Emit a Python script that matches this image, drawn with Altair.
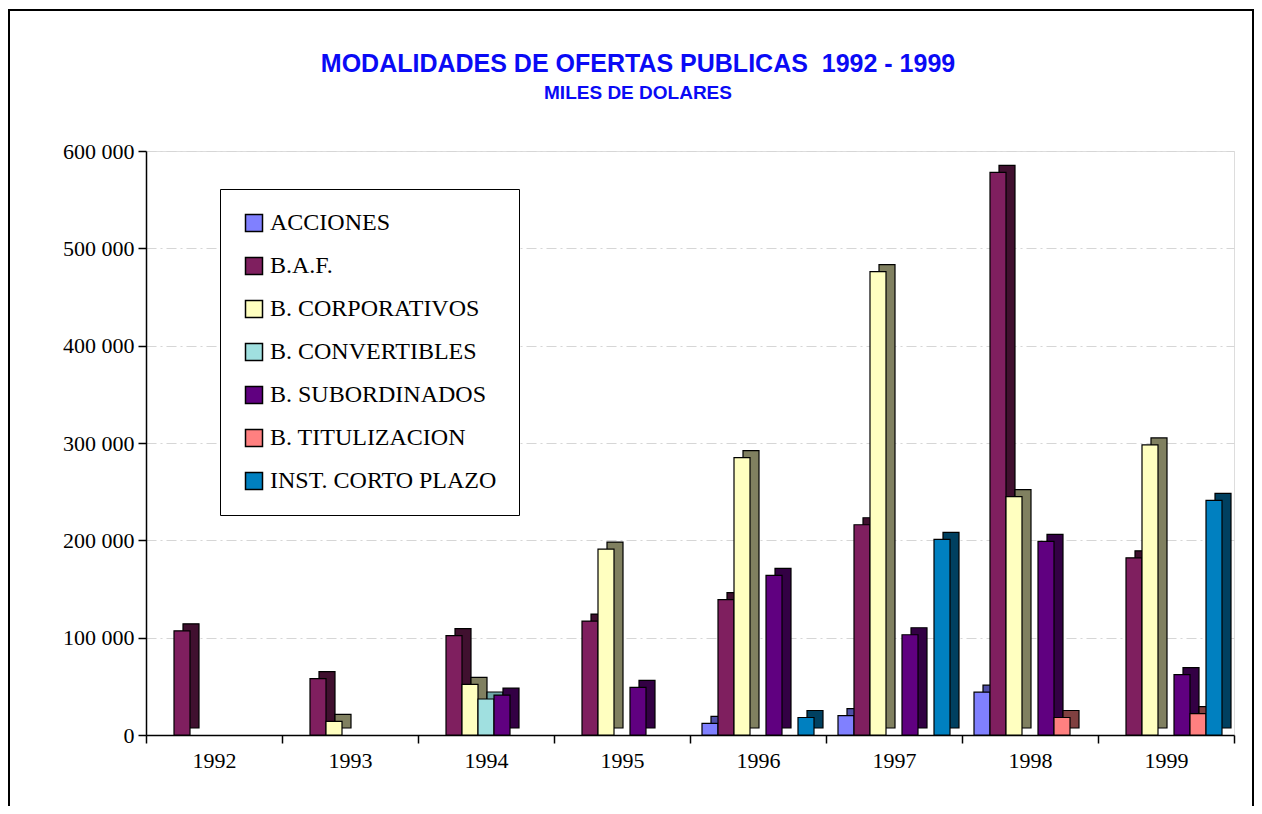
import altair as alt
import pandas as pd

years = ["1992", "1993", "1994", "1995", "1996", "1997", "1998", "1999"]
series = ["ACCIONES", "B.A.F.", "B. CORPORATIVOS", "B. CONVERTIBLES",
          "B. SUBORDINADOS", "B. TITULIZACION", "INST. CORTO PLAZO"]

acciones = [0, 0, 0, 0, 12000, 20000, 44000, 0]
baf = [107000, 58000, 102000, 117000, 139000, 216000, 578000, 182000]
corporativos = [0, 14000, 52000, 191000, 285000, 476000, 245000, 298000]
convertibles = [0, 0, 37000, 0, 0, 0, 0, 0]
subordinados = [0, 0, 41000, 49000, 164000, 103000, 199000, 62000]
titulizacion = [0, 0, 0, 0, 0, 0, 18000, 22000]
corto_plazo = [0, 0, 0, 0, 18000, 201000, 0, 241000]

front_colors = ["#8080FF", "#7F1F5F", "#FFFFC0", "#A0E0E0", "#600080", "#FF8080", "#0080C0"]
side_colors = ["#5050A8", "#40102F", "#808060", "#70A8A8", "#330044", "#804040", "#004060"]

rows = []
for s, vals in zip(series, [acciones, baf, corporativos, convertibles,
                            subordinados, titulizacion, corto_plazo]):
    for yr, v in zip(years, vals):
        rows.append({"year": yr, "series": s, "value": v})
df = pd.DataFrame(rows)

x_enc = alt.X(
    "year:N", sort=years,
    scale=alt.Scale(paddingInner=0, paddingOuter=0),
    axis=alt.Axis(title=None, labelAngle=0, tickBand="extent", tickSize=8,
                  tickColor="black", domainColor="black", domainWidth=1.5,
                  tickWidth=1.5, labelFont="Liberation Serif", labelFontSize=22,
                  labelColor="black", labelPadding=7, grid=False),
)
y_enc = alt.Y(
    "value:Q",
    scale=alt.Scale(domain=[0, 600000], nice=False),
    axis=alt.Axis(title=None, values=[0, 100000, 200000, 300000, 400000, 500000, 600000],
                  labelExpr="replace(format(datum.value, ','), ',', ' ')",
                  tickSize=8, tickColor="black", tickWidth=1.5,
                  domainColor="black", domainWidth=1.5,
                  labelFont="Liberation Serif", labelFontSize=22, labelColor="black",
                  labelPadding=4, grid=True, gridColor="#d6d6d6",
                  gridDash=[10, 4, 2, 4], gridWidth=1.2),
)

base = alt.Chart(df).transform_filter("datum.value > 0")

back = base.mark_bar(
    yOffset=-7, y2Offset=-7, stroke="black", strokeWidth=1.2,
).encode(
    x=x_enc,
    xOffset=alt.XOffset("series:N", sort=series,
                        scale=alt.Scale(paddingInner=0, paddingOuter=0.75, align=0.875)),
    y=y_enc,
    color=alt.Color("series:N", sort=series,
                    scale=alt.Scale(domain=series, range=side_colors), legend=None),
)

front = base.mark_bar(stroke="black", strokeWidth=1.2).encode(
    x=x_enc,
    xOffset=alt.XOffset("series:N", sort=series,
                        scale=alt.Scale(paddingInner=0, paddingOuter=0.75, align=0.5)),
    y=y_enc,
    color=alt.Color(
        "series:N", sort=series,
        scale=alt.Scale(domain=series, range=front_colors),
        legend=alt.Legend(
            title=None, orient="none", legendX=74, legendY=38,
            strokeColor="black", fillColor="white", padding=22,
            symbolType="square", symbolSize=289, symbolStrokeColor="black",
            symbolStrokeWidth=1.5, labelFont="Liberation Serif", labelFontSize=24,
            labelColor="black", rowPadding=19, labelOffset=4, labelLimit=400,
        ),
    ),
)

frame = alt.Chart(pd.DataFrame({"k": [0]})).mark_rect(
    filled=False, stroke="black", strokeWidth=2
).encode(
    x=alt.value(-137), x2=alt.value(1107), y=alt.value(-141), y2=alt.value(720)
)

chart = alt.layer(frame, back, front).resolve_scale(
    color="independent", xOffset="independent"
).properties(
    width=1088, height=584,
    autosize=alt.AutoSizeParams(type="none"),
    padding={"left": 138, "top": 143, "right": 20, "bottom": 71},
    title=alt.TitleParams(
        text="MODALIDADES DE OFERTAS PUBLICAS\u00a0 1992 - 1999",
        subtitle="MILES DE DOLARES",
        font="Liberation Sans", fontSize=25, fontWeight="bold", color="#0A0AF5",
        subtitleFont="Liberation Sans", subtitleFontSize=19,
        subtitleFontWeight="bold", subtitleColor="#0A0AF5",
        subtitlePadding=7, anchor="middle", frame="group", dx=-52, offset=0, dy=94,
    ),
).configure_view(stroke="#a0a0a0", strokeWidth=1.5).configure(background="white")

chart.save("out.html", embed_options={"renderer": "svg", "actions": False})
